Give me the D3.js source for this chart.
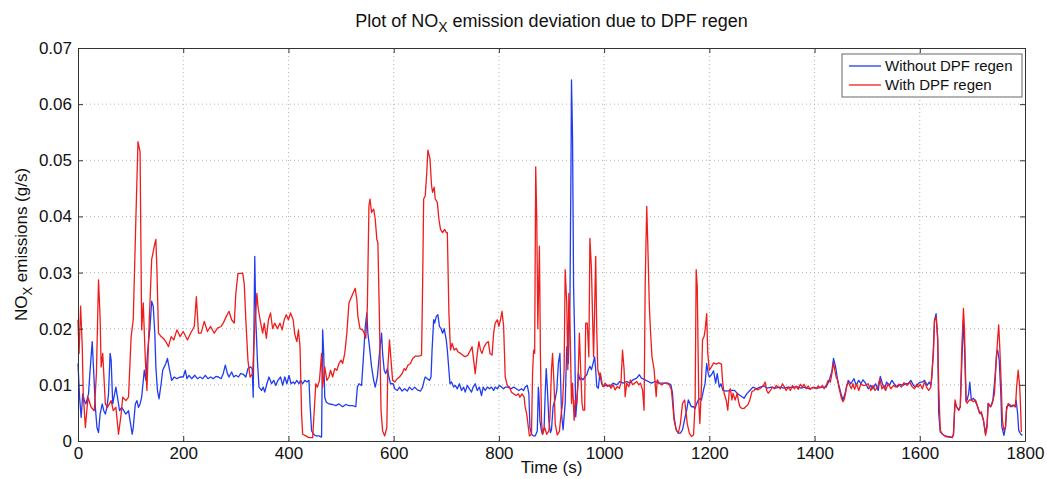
<!DOCTYPE html>
<html>
<head>
<meta charset="utf-8">
<script src="https://cdn.jsdelivr.net/npm/d3@7"></script>
<style>
  html, body { margin: 0; padding: 0; background: #fff; }
  svg { display: block; font-family: "Liberation Sans", Arial, Helvetica, sans-serif; }
  .axis path, .axis line { stroke: #333; }
  .axis text { fill: #111; font-size: 17px; }
  .grid line { stroke: #b4b4b4; stroke-dasharray: 1,3; }
</style>
</head>
<body>
<svg id="chart" width="1047" height="479"></svg>
<script>
// series names
const seriesNames = ["Without DPF regen", "With DPF regen"];
const xTicks = [0, 200, 400, 600, 800, 1000, 1200, 1400, 1600, 1800];
const yTicks = [0, 0.01, 0.02, 0.03, 0.04, 0.05, 0.06, 0.07];

// [time (s), NOx (g/s)]
const withoutRegen = [
  [0,.0138],[3,.0078],[6,.0042],[9,.0084],[12,.0072],[15,.0066],[20,.0084],[23,.0126],[27,.0177],[30,.012],
  [33,.006],[36,.0024],[39,.0015],[42,.0048],[46,.0066],[49,.0054],[52,.0048],[55,.006],[58,.0084],[61,.0156],
  [63,.0144],[66,.0066],[72,.0096],[75,.0078],[79,.0054],[83,.006],[87,.0054],[91,.0048],[96,.0054],[99,.0036],
  [103,.0012],[105,.0024],[109,.0066],[112,.0072],[115,.006],[118,.0066],[121,.0078],[126,.0126],[129,.0108],[132,.0156],
  [137,.0204],[140,.0249],[143,.024],[146,.0192],[148,.0132],[151,.009],[154,.0075],[158,.0102],[161,.0126],[164,.0132],
  [167,.0138],[170,.0147],[173,.0132],[178,.0108],[183,.0114],[188,.0111],[194,.0114],[200,.0114],[204,.0126],[207,.0111],
  [211,.0117],[216,.0111],[222,.0117],[227,.0111],[232,.0114],[237,.0111],[242,.0117],[247,.0111],[252,.0114],[257,.0111],
  [262,.0115],[267,.0114],[272,.0111],[276,.012],[280,.0135],[284,.012],[287,.0114],[292,.0123],[296,.0114],[300,.0117],
  [305,.0114],[309,.012],[314,.0119],[319,.0114],[323,.0129],[328,.0132],[331,.0129],[333,.0078],[336,.0329],[338,.0216],
  [341,.0144],[344,.0096],[349,.009],[352,.0096],[355,.0087],[359,.0102],[363,.0114],[368,.0102],[372,.0108],[376,.0099],
  [380,.0108],[385,.0114],[389,.0099],[393,.0114],[397,.0102],[401,.0117],[405,.0102],[409,.0105],[412,.0102],[416,.0108],
  [420,.0102],[423,.0108],[427,.0102],[431,.0108],[435,.0105],[439,.0108],[441,.0066],[444,.0018],[448,.0012],[452,.0009],
  [458,.0009],[463,.0007],[465,.0198],[467,.0156],[469,.0078],[472,.0069],[477,.0066],[484,.0065],[490,.0063],[496,.0066],
  [503,.0061],[509,.0065],[515,.0063],[522,.0063],[528,.0061],[531,.0096],[534,.0102],[539,.0099],[543,.0156],[546,.0204],
  [549,.0228],[551,.0192],[554,.0168],[558,.0132],[562,.0108],[565,.0096],[569,.0114],[573,.0156],[577,.0192],[579,.0156],
  [582,.0126],[585,.012],[588,.0129],[591,.0114],[594,.0102],[599,.0102],[602,.0093],[607,.009],[611,.0096],[616,.0089],
  [621,.0093],[626,.0089],[630,.0096],[635,.0091],[640,.0096],[645,.0091],[651,.0089],[655,.0096],[658,.0108],[660,.0114],
  [664,.0111],[668,.0108],[671,.0114],[673,.0162],[676,.0216],[678,.021],[681,.0222],[684,.0225],[687,.0204],[690,.02],
  [693,.0192],[696,.02],[700,.018],[702,.0162],[705,.0126],[707,.0102],[710,.0105],[714,.0096],[717,.0099],[721,.0093],
  [725,.0102],[729,.009],[733,.0096],[736,.0087],[740,.0099],[744,.0093],[748,.0087],[751,.0096],[755,.0102],[759,.009],
  [763,.0096],[767,.0081],[770,.0096],[774,.009],[778,.0096],[782,.0093],[786,.0096],[790,.009],[793,.0096],[797,.0093],
  [801,.0099],[805,.0096],[809,.0093],[812,.0096],[817,.0096],[823,.0093],[828,.0096],[833,.0093],[838,.009],[843,.0093],
  [847,.009],[850,.0096],[854,.0099],[857,.0084],[859,.0024],[862,.0012],[866,.0009],[869,.0009],[873,.0018],[875,.0096],
  [876,.0084],[878,.0036],[881,.0018],[883,.0012],[886,.0024],[888,.0084],[890,.0129],[892,.0096],[895,.0036],[898,.0015],
  [900,.002],[903,.0061],[907,.0075],[910,.009],[913,.0138],[916,.0156],[919,.0049],[922,.002],[926,.0067],[929,.0168],
  [932,.0138],[935,.0245],[937,.0483],[938,.0643],[940,.0542],[942,.0275],[944,.0186],[946,.0043],[948,.0067],[951,.0121],
  [954,.0109],[957,.0112],[960,.0109],[964,.0115],[967,.0118],[970,.0127],[973,.0133],[976,.0127],[979,.0138],[982,.015],
  [984,.0127],[986,.0097],[989,.0094],[992,.0121],[995,.0103],[998,.0097],[1005,.01],[1011,.0097],[1017,.0103],[1024,.01],
  [1030,.0106],[1036,.0103],[1043,.0106],[1049,.0103],[1055,.0109],[1062,.0112],[1067,.0118],[1071,.0112],[1078,.0109],[1084,.0106],
  [1090,.0103],[1097,.0106],[1103,.0103],[1110,.0103],[1116,.0103],[1122,.0103],[1127,.01],[1130,.0085],[1133,.0043],[1137,.002],
  [1141,.0014],[1145,.0014],[1149,.002],[1154,.0043],[1157,.0055],[1160,.0073],[1163,.0067],[1166,.0061],[1170,.0061],[1173,.0058],
  [1176,.0067],[1179,.0073],[1182,.0076],[1185,.0073],[1189,.0091],[1192,.0103],[1195,.0138],[1198,.012],[1200,.0114],[1204,.0118],
  [1208,.0125],[1212,.0103],[1215,.012],[1219,.0096],[1222,.0102],[1226,.009],[1232,.0089],[1240,.009],[1248,.009],[1254,.0084],
  [1260,.008],[1266,.0076],[1271,.0084],[1277,.009],[1283,.0096],[1290,.0093],[1296,.0096],[1304,.0098],[1310,.0094],[1318,.0096],
  [1326,.0094],[1334,.0096],[1342,.0094],[1350,.0096],[1358,.0095],[1366,.0097],[1374,.0094],[1382,.0096],[1390,.0093],[1398,.0095],
  [1406,.0094],[1414,.0096],[1422,.0096],[1428,.0108],[1433,.0125],[1436,.0147],[1440,.0132],[1444,.0108],[1450,.0085],[1454,.0073],
  [1458,.0085],[1464,.0108],[1469,.0102],[1475,.0111],[1479,.0099],[1484,.0108],[1488,.0102],[1492,.0109],[1497,.0103],[1502,.0093],
  [1507,.0099],[1511,.0093],[1516,.0102],[1521,.009],[1525,.0115],[1529,.0102],[1533,.0093],[1537,.0105],[1542,.0099],[1547,.0108],
  [1552,.0101],[1557,.0096],[1563,.0101],[1568,.0099],[1573,.0102],[1578,.0102],[1583,.0108],[1588,.0099],[1592,.0096],[1597,.0102],
  [1601,.0105],[1605,.0105],[1609,.0108],[1614,.0099],[1618,.0105],[1621,.0099],[1623,.0114],[1626,.0168],[1628,.0215],[1631,.0227],
  [1634,.018],[1636,.0049],[1639,.0016],[1646,.001],[1653,.0008],[1661,.0007],[1664,.001],[1667,.0067],[1670,.0061],[1674,.0055],
  [1677,.0061],[1680,.0144],[1683,.0215],[1685,.0168],[1688,.007],[1690,.0073],[1693,.0085],[1695,.0105],[1698,.0073],[1702,.0076],
  [1706,.007],[1710,.0061],[1714,.0049],[1717,.0049],[1721,.0037],[1725,.0013],[1728,.0031],[1730,.0067],[1735,.0061],[1739,.0073],
  [1743,.0114],[1746,.0156],[1748,.0162],[1751,.0144],[1754,.0085],[1756,.0025],[1760,.001],[1763,.0025],[1765,.0061],[1769,.0064],
  [1773,.0061],[1777,.0064],[1781,.0061],[1783,.0073],[1786,.0049],[1788,.0019],[1792,.0012],[1795,.001]
];

const withRegen = [
  [0,.0216],[2,.0156],[5,.024],[8,.017],[10,.0084],[14,.0024],[19,.0078],[25,.006],[31,.0054],[35,.012],
  [39,.0287],[42,.022],[44,.0132],[47,.0156],[52,.0066],[56,.006],[63,.0072],[67,.0054],[72,.006],[77,.0012],
  [82,.0048],[85,.0078],[91,.0072],[96,.0078],[101,.0186],[105,.0216],[110,.0395],[114,.0533],[118,.0515],[121,.0198],
  [124,.0246],[128,.0144],[131,.009],[135,.0204],[140,.0323],[145,.0347],[148,.0359],[150,.0305],[153,.0192],[158,.0186],
  [162,.0183],[167,.0177],[172,.0168],[177,.0186],[182,.018],[188,.0198],[194,.0186],[200,.0195],[208,.018],[214,.0192],
  [221,.0204],[225,.0257],[229,.0192],[234,.0192],[240,.0213],[246,.0195],[252,.0204],[259,.0192],[265,.0201],[272,.0204],
  [276,.021],[282,.0222],[287,.0231],[292,.0216],[297,.021],[300,.0263],[304,.0298],[313,.0299],[316,.028],[319,.0216],
  [323,.0144],[327,.0114],[332,.012],[336,.0204],[340,.0263],[342,.024],[346,.0216],[351,.0192],[354,.021],[358,.0183],
  [362,.0216],[366,.0228],[370,.02],[374,.021],[379,.02],[384,.021],[388,.0198],[392,.0216],[396,.0225],[400,.0216],
  [404,.0228],[409,.0216],[412,.019],[416,.0177],[419,.0198],[422,.0168],[425,.0048],[427,.0012],[433,.0009],[439,.0006],
  [446,.0006],[449,.0054],[452,.0102],[455,.0096],[459,.0108],[463,.0156],[465,.0096],[469,.0132],[473,.0108],[477,.0114],
  [480,.0126],[484,.0114],[488,.0129],[492,.0126],[496,.0138],[500,.0144],[503,.0138],[507,.0156],[511,.0192],[515,.0246],
  [520,.0257],[524,.0266],[527,.0272],[530,.0251],[532,.0222],[536,.02],[541,.0198],[544,.0192],[547,.0183],[550,.024],
  [553,.0419],[555,.0431],[558,.0407],[562,.0413],[565,.0395],[568,.0359],[570,.0353],[573,.0216],[576,.0054],[579,.0018],
  [583,.0009],[587,.0024],[589,.0132],[592,.018],[594,.0156],[598,.0108],[602,.0105],[607,.0111],[611,.0114],[616,.012],
  [620,.0129],[623,.0126],[627,.0135],[632,.0138],[636,.0147],[641,.0151],[648,.0151],[653,.0153],[655,.0275],[657,.0431],
  [660,.0437],[663,.0479],[665,.0518],[669,.0503],[672,.0455],[674,.0443],[677,.0452],[679,.0431],[683,.0425],[686,.0395],
  [689,.0377],[693,.0371],[697,.0377],[700,.0371],[702,.0371],[705,.0228],[708,.0162],[711,.0174],[715,.0162],[719,.0165],
  [722,.0159],[727,.0156],[731,.0153],[736,.015],[741,.0153],[746,.0162],[749,.0168],[752,.0144],[755,.012],[759,.0156],
  [762,.0177],[765,.0162],[768,.0156],[772,.0168],[776,.0174],[780,.0177],[783,.0156],[787,.0153],[790,.0192],[793,.021],
  [797,.0216],[800,.0204],[803,.0216],[806,.0231],[809,.0204],[812,.0114],[816,.0099],[820,.0096],[824,.0087],[828,.0084],
  [833,.0081],[837,.0084],[840,.0078],[844,.0084],[848,.0078],[850,.006],[853,.0048],[856,.0024],[858,.0009],[862,.0012],
  [864,.012],[866,.0162],[868,.0156],[870,.0488],[872,.0395],[874,.02],[877,.0347],[879,.015],[881,.0036],[883,.0012],
  [887,.0024],[891,.0012],[895,.0018],[897,.0043],[900,.0127],[902,.0156],[905,.0097],[907,.0031],[911,.0011],[915,.0017],
  [917,.0037],[921,.0067],[924,.0127],[926,.0305],[929,.0245],[931,.0127],[933,.0263],[935,.0216],[938,.0067],[940,.0103],
  [943,.0037],[945,.0073],[948,.0067],[950,.0097],[953,.0192],[955,.0138],[958,.0067],[960,.0055],[963,.0055],[965,.021],
  [968,.021],[971,.015],[973,.0361],[976,.0305],[978,.0222],[980,.015],[982,.0234],[984,.0329],[986,.0198],[988,.0127],
  [991,.0115],[993,.0121],[996,.0103],[998,.0097],[1002,.0103],[1006,.0097],[1010,.01],[1013,.0094],[1017,.01],[1021,.0091],
  [1025,.0097],[1029,.0094],[1032,.0103],[1035,.0162],[1038,.0127],[1040,.0079],[1043,.0103],[1047,.0097],[1050,.0109],[1054,.01],
  [1058,.0103],[1062,.0106],[1066,.01],[1069,.0103],[1073,.0091],[1076,.0055],[1078,.0275],[1081,.0418],[1083,.0352],[1086,.0239],
  [1088,.0198],[1091,.015],[1095,.0127],[1099,.0079],[1101,.0109],[1105,.0103],[1109,.01],[1114,.0103],[1119,.0103],[1124,.01],
  [1128,.0091],[1133,.0037],[1137,.002],[1141,.0014],[1145,.0031],[1149,.0067],[1153,.0073],[1156,.0049],[1158,.0031],[1162,.0014],
  [1166,.0008],[1170,.0011],[1173,.0067],[1175,.0305],[1177,.0275],[1180,.0067],[1182,.0031],[1185,.0097],[1187,.018],[1190,.0186],
  [1192,.0198],[1195,.0227],[1197,.0156],[1200,.0126],[1204,.0132],[1208,.0139],[1213,.0137],[1218,.0139],[1223,.0137],[1225,.0108],
  [1228,.0085],[1232,.0073],[1235,.0055],[1238,.009],[1240,.0093],[1243,.0073],[1245,.0085],[1249,.0073],[1253,.0085],[1255,.0073],
  [1258,.0061],[1262,.0058],[1266,.0058],[1269,.0061],[1273,.0064],[1277,.0073],[1281,.0088],[1285,.009],[1288,.0093],[1292,.0091],
  [1296,.0093],[1300,.0096],[1303,.0099],[1306,.0105],[1309,.009],[1312,.0085],[1316,.009],[1320,.0096],[1324,.0093],[1327,.0099],
  [1331,.0096],[1335,.0093],[1339,.0102],[1343,.0096],[1346,.009],[1350,.0096],[1354,.009],[1358,.0099],[1362,.0093],[1365,.0098],
  [1369,.0092],[1373,.0101],[1377,.0096],[1380,.0101],[1384,.0093],[1388,.0098],[1392,.0092],[1396,.0095],[1399,.0096],[1403,.0093],
  [1407,.0098],[1411,.0095],[1415,.0099],[1418,.0093],[1422,.0099],[1426,.0108],[1430,.0105],[1433,.012],[1436,.0139],[1438,.0129],
  [1441,.0114],[1444,.0108],[1446,.0096],[1449,.0085],[1451,.0076],[1454,.007],[1456,.0073],[1459,.0085],[1461,.0099],[1464,.0105],
  [1467,.0099],[1470,.0093],[1473,.0102],[1476,.0092],[1480,.0101],[1484,.009],[1488,.0102],[1492,.0099],[1497,.0099],[1502,.0102],
  [1507,.009],[1511,.0099],[1515,.009],[1520,.0096],[1524,.0111],[1528,.0093],[1532,.0099],[1535,.009],[1540,.0102],[1545,.0093],
  [1550,.0099],[1555,.0096],[1560,.0101],[1565,.0096],[1570,.0104],[1576,.0099],[1581,.0105],[1586,.0096],[1590,.0093],[1594,.0101],
  [1597,.0096],[1601,.0101],[1605,.0093],[1609,.0105],[1613,.0096],[1617,.009],[1621,.0096],[1623,.012],[1626,.0156],[1628,.0215],
  [1631,.0221],[1634,.0186],[1636,.0096],[1639,.0019],[1643,.0012],[1649,.0008],[1655,.0007],[1662,.0006],[1664,.0013],[1667,.0073],
  [1670,.0061],[1674,.0055],[1677,.0061],[1680,.0168],[1683,.0236],[1685,.0198],[1688,.0073],[1690,.0067],[1694,.0073],[1698,.0073],
  [1702,.007],[1706,.0073],[1710,.0061],[1714,.0049],[1717,.0052],[1721,.0037],[1725,.001],[1728,.0025],[1730,.0067],[1734,.0061],
  [1738,.0067],[1742,.0085],[1744,.012],[1747,.0168],[1750,.0207],[1752,.0168],[1755,.0096],[1757,.0037],[1760,.0019],[1763,.0025],
  [1765,.0055],[1768,.0067],[1772,.0064],[1775,.0061],[1779,.0064],[1782,.0061],[1784,.0096],[1787,.0126],[1790,.0096],[1792,.0049],
  [1793,.0016]
];

const colors = ["#1f3cf2", "#f01c1c"];

const svg = d3.select("#chart");
const margin = { top: 48, right: 22, bottom: 38, left: 78 };
const W = 1047, H = 479;

const x = d3.scaleLinear().domain([0, 1800]).range([margin.left, W - margin.right]);
const y = d3.scaleLinear().domain([0, 0.07]).range([H - margin.bottom, margin.top]);

// dotted grid
const grid = svg.append("g").attr("class", "grid");
grid.selectAll("line.gx")
  .data(xTicks.slice(1, -1))
  .enter().append("line")
    .attr("class", "gx")
    .attr("x1", d => x(d)).attr("x2", d => x(d))
    .attr("y1", y(0)).attr("y2", y(0.07));
grid.selectAll("line.gy")
  .data(yTicks.slice(1, -1))
  .enter().append("line")
    .attr("class", "gy")
    .attr("x1", x(0)).attr("x2", x(1800))
    .attr("y1", d => y(d)).attr("y2", d => y(d));

// series lines
const line = d3.line().x(d => x(d[0])).y(d => y(d[1]));
[withoutRegen, withRegen].forEach((s, i) => {
  svg.append("path")
    .datum(s)
    .attr("fill", "none")
    .attr("stroke", colors[i])
    .attr("stroke-width", 1.3)
    .attr("stroke-linejoin", "round")
    .attr("d", line);
});

// axes, ticks pointing inward (box on all sides)
const fmtY = d => d === 0 ? "0" : d3.format(".2f")(d);
svg.append("g").attr("class", "axis")
  .attr("transform", `translate(0,${y(0)})`)
  .call(d3.axisBottom(x).tickValues(xTicks).tickFormat(d3.format("d")).tickSize(-5).tickPadding(6).tickSizeOuter(0));
svg.append("g").attr("class", "axis")
  .attr("transform", `translate(${x(0)},0)`)
  .call(d3.axisLeft(y).tickValues(yTicks).tickFormat(fmtY).tickSize(-5).tickPadding(6).tickSizeOuter(0));
svg.append("g").attr("class", "axis")
  .attr("transform", `translate(0,${y(0.07)})`)
  .call(d3.axisTop(x).tickValues(xTicks).tickSize(-5).tickFormat("").tickSizeOuter(0));
svg.append("g").attr("class", "axis")
  .attr("transform", `translate(${x(1800)},0)`)
  .call(d3.axisRight(y).tickValues(yTicks).tickSize(-5).tickFormat("").tickSizeOuter(0));

// title
const title = svg.append("text")
  .attr("x", (x(0) + x(1800)) / 2).attr("y", 27)
  .attr("text-anchor", "middle")
  .attr("font-size", 18).attr("fill", "#111");
title.append("tspan").text("Plot of NO");
title.append("tspan").attr("dy", 5).attr("font-size", 14).text("X");
title.append("tspan").attr("dy", -5).text(" emission deviation due to DPF regen");

// axis labels
svg.append("text")
  .attr("x", (x(0) + x(1800)) / 2).attr("y", 473)
  .attr("text-anchor", "middle")
  .attr("font-size", 17).attr("fill", "#111")
  .text("Time (s)");

const ylab = svg.append("text")
  .attr("transform", `translate(27,${(y(0) + y(0.07)) / 2}) rotate(-90)`)
  .attr("text-anchor", "middle")
  .attr("font-size", 17).attr("fill", "#111");
ylab.append("tspan").text("NO");
ylab.append("tspan").attr("dy", 5).attr("font-size", 13).text("X");
ylab.append("tspan").attr("dy", -5).text(" emissions (g/s)");

// legend
const lg = svg.append("g").attr("transform", "translate(842,54)");
lg.append("rect")
  .attr("width", 180).attr("height", 43)
  .attr("fill", "#fff").attr("stroke", "#666");
seriesNames.forEach((name, i) => {
  const yy = 12 + i * 19;
  lg.append("line")
    .attr("x1", 7).attr("x2", 39).attr("y1", yy).attr("y2", yy)
    .attr("stroke", colors[i]).attr("stroke-width", 1.3);
  lg.append("text")
    .attr("x", 43).attr("y", yy + 5)
    .attr("font-size", 15).attr("fill", "#111")
    .text(name);
});
</script>
</body>
</html>
